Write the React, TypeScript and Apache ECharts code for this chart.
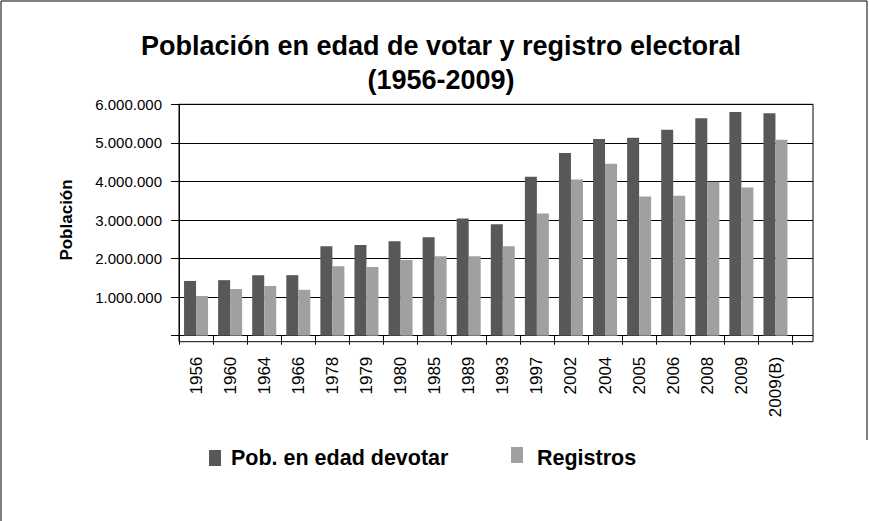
import React, { useEffect, useRef } from "react";
import * as echarts from "echarts";

const categories = ["1956", "1960", "1964", "1966", "1978", "1979", "1980", "1985", "1989", "1993", "1997", "2002", "2004", "2005", "2006", "2008", "2009", "2009(B)"];
const poblacion = [1420000, 1440000, 1570000, 1570000, 2320000, 2350000, 2450000, 2550000, 3040000, 2890000, 4120000, 4740000, 5100000, 5130000, 5340000, 5640000, 5800000, 5770000];
const registros = [1030000, 1210000, 1290000, 1190000, 1800000, 1780000, 1960000, 2060000, 2060000, 2320000, 3170000, 4050000, 4460000, 3610000, 3630000, 3990000, 3840000, 5080000];
const seriesNames = ["Pob. en edad devotar", "Registros"];
const yMin = 0;
const yMax = 6000000;
const yStep = 1000000;

const FONT = "'Liberation Sans', Arial, sans-serif";
const DARK = "#58585a";
const LIGHT = "#a0a0a2";

function fmt(v: number): string {
  if (v === 0) return "";
  return String(Math.round(v)).replace(/\B(?=(\d{3})+(?!\d))/g, ".");
}

export default function App() {
  const ref = useRef<HTMLDivElement>(null);
  useEffect(() => {
    if (!ref.current) return;
    const chart = echarts.init(ref.current, undefined, { renderer: "svg" });
    const top = 104.3;
    const zeroY = 335.7;
    const floorY = 341.7;
    const left = 179;
    const right = 813;
    const catRight = 792.5;
    chart.setOption({
      animation: false,
      backgroundColor: "#ffffff",
      title: {
        text: "Población en edad de votar y registro electoral\n(1956-2009)",
        left: 441,
        top: 29,
        padding: 0,
        textAlign: "center",
        textStyle: { fontFamily: FONT, fontSize: 27, fontWeight: "bold", color: "#000", lineHeight: 34 },
      },
      grid: [
        { left: left, right: 869 - right, top: top, bottom: 521 - zeroY, containLabel: false },
        { left: left, right: 869 - catRight, top: top, bottom: 521 - zeroY, containLabel: false },
      ],
      xAxis: [
        { type: "value", gridIndex: 0, show: false, min: 0, max: 1 },
        {
          type: "category",
          gridIndex: 1,
          data: categories,
          offset: floorY - zeroY,
          axisLine: { show: false },
          axisTick: { show: true, length: 9, lineStyle: { color: "#000", width: 1 } },
          axisLabel: { rotate: 90, margin: 15, fontFamily: FONT, fontSize: 17, color: "#000", interval: 0 },
          splitLine: { show: false },
        },
      ],
      yAxis: [
        {
          type: "value",
          gridIndex: 0,
          min: yMin,
          max: yMax,
          interval: yStep,
          name: "Población",
          nameLocation: "middle",
          nameRotate: 90,
          nameGap: 104,
          nameTextStyle: { fontFamily: FONT, fontSize: 17, fontWeight: "bold", color: "#000" },
          axisLine: { show: true, lineStyle: { color: "#000", width: 1 } },
          axisTick: { show: true, length: 8, lineStyle: { color: "#000", width: 1 } },
          axisLabel: { margin: 17, fontFamily: FONT, fontSize: 15, color: "#000", formatter: (v: number) => fmt(v) },
          splitLine: { show: true, lineStyle: { color: "#000", width: 1 } },
        },
        { type: "value", gridIndex: 1, min: yMin, max: yMax, show: false, splitLine: { show: false } },
      ],
      legend: [
        {
          data: [seriesNames[0]],
          left: 209,
          top: 447,
          padding: 0,
          itemWidth: 12,
          itemHeight: 16,
          icon: "rect",
          textStyle: { fontFamily: FONT, fontSize: 21.5, fontWeight: "bold", color: "#000", padding: [0, 0, 0, 5] },
        },
        {
          data: [{ name: seriesNames[1], icon: "path://M0,0H12V16H0Z M0,21L0.01,21" }],
          left: 511,
          top: 446.5,
          padding: 0,
          itemWidth: 12,
          itemHeight: 21,
          textStyle: { fontFamily: FONT, fontSize: 21.5, fontWeight: "bold", color: "#000", padding: [0, 0, 0, 9] },
        },
      ],
      series: [
        {
          name: seriesNames[0],
          type: "bar",
          xAxisIndex: 1,
          yAxisIndex: 1,
          data: poblacion,
          barWidth: 12,
          barGap: "0%",
          itemStyle: { color: DARK },
        },
        {
          name: seriesNames[1],
          type: "bar",
          xAxisIndex: 1,
          yAxisIndex: 1,
          data: registros,
          barWidth: 12,
          barGap: "0%",
          itemStyle: { color: LIGHT },
        },
      ],
      graphic: [
        {
          type: "rect",
          shape: { x: left, y: top, width: right - left, height: floorY - top },
          style: { fill: "none", stroke: "#000", lineWidth: 1 },
          silent: true,
          z: 10,
        },
        { type: "line", shape: { x1: 1, y1: 1, x2: 867, y2: 1 }, style: { stroke: "#000", lineWidth: 1 }, silent: true },
        { type: "line", shape: { x1: 1, y1: 1, x2: 1, y2: 521 }, style: { stroke: "#000", lineWidth: 1 }, silent: true },
        { type: "line", shape: { x1: 867, y1: 1, x2: 867, y2: 440 }, style: { stroke: "#000", lineWidth: 1 }, silent: true },
      ],
    });
    return () => chart.dispose();
  }, []);
  return <div ref={ref} style={{ position: "fixed", left: 0, top: 0, width: 869, height: 521 }} />;
}
